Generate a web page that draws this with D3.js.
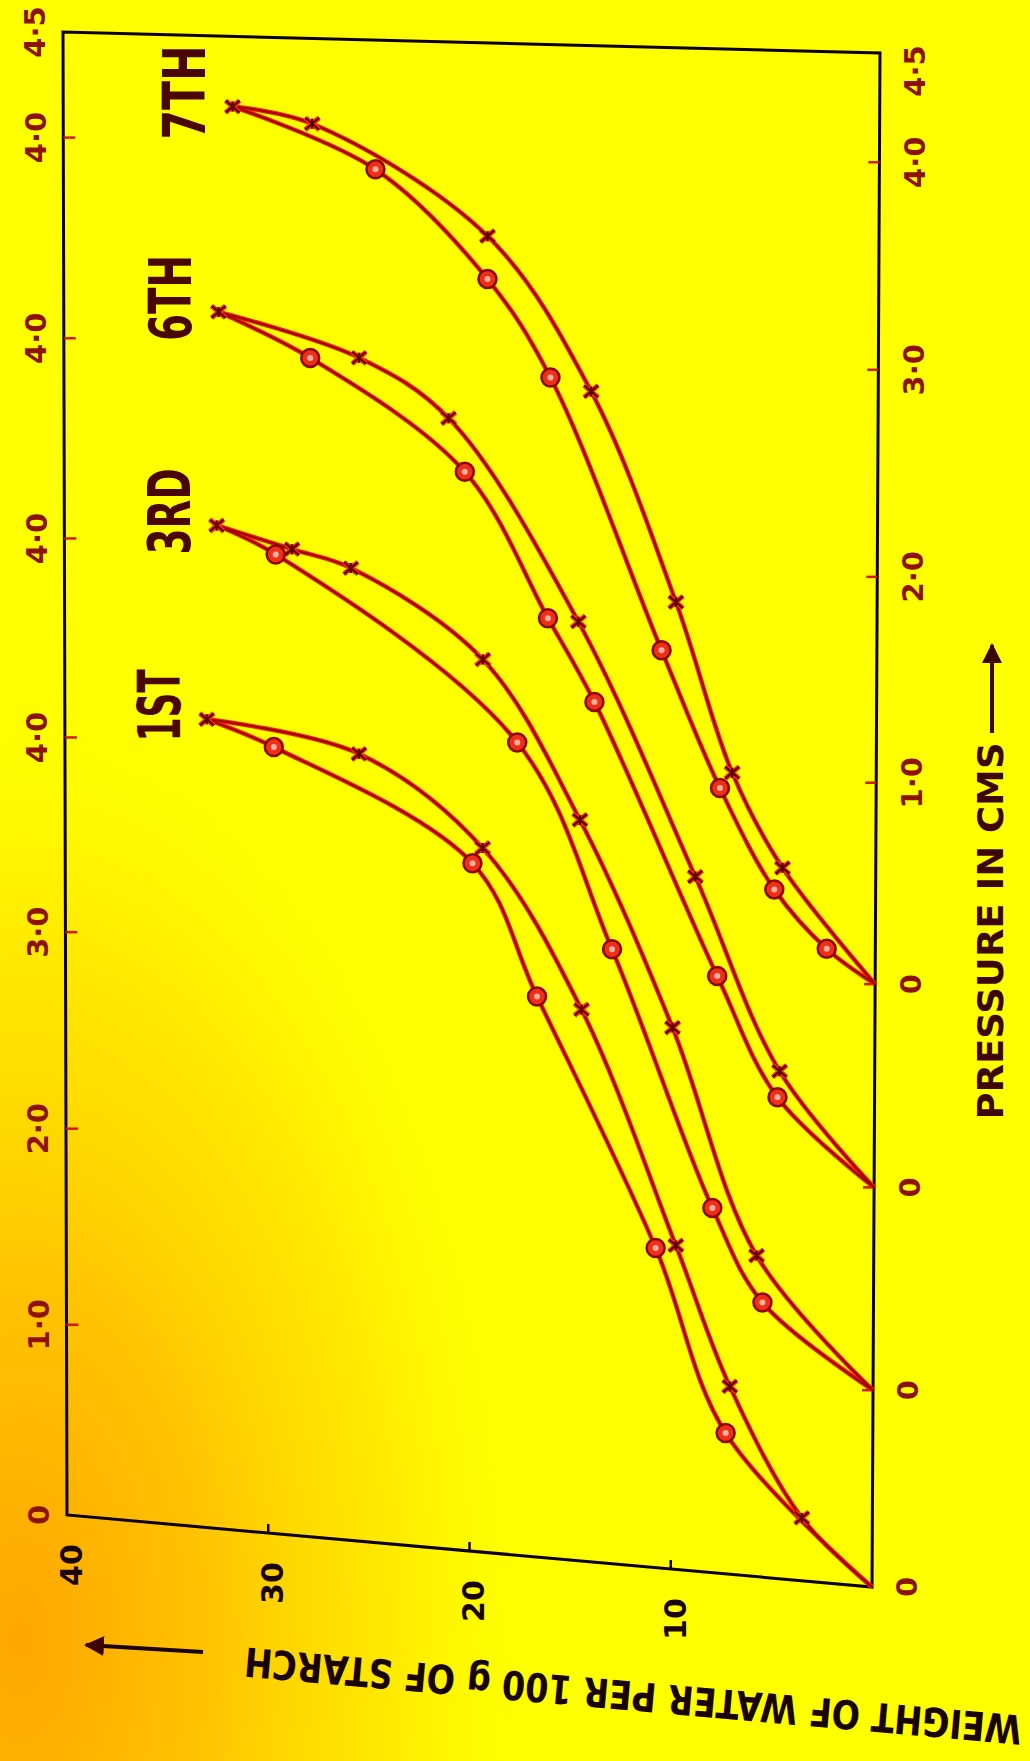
<!DOCTYPE html>
<html>
<head>
<meta charset="utf-8">
<title>Water taken up by starch</title>
<script src="https://cdn.jsdelivr.net/npm/d3@7/dist/d3.min.js"></script>
<style>
	body{margin:0;background:#ffff00;}
	svg{display:block;}
	.frame{fill:none;stroke:#0d0000;stroke-width:3;}
	.curve--glow{fill:none;stroke:#f02008;stroke-width:4.5;}
	.curve--core{fill:none;stroke:#9a0800;stroke-width:2;}
	.tick--red{stroke:#d41a00;stroke-width:2.5;}
	.tick--black{stroke:#140000;stroke-width:2.5;}
	.lbl{font-family:'DejaVu Sans',sans-serif;font-weight:bold;}
	.cycle{font-family:'DejaVu Sans Condensed','DejaVu Sans',sans-serif;font-weight:bold;}
</style>
</head>
<body>
<div id="chart"></div>
<script>
var W = 1030, H = 1761;

// each cycle is drawn one pressure unit further along the axis
var cycleNames = ['1ST','3RD','6TH','7TH'];
var cycleOffsets = [0,1,2,3];

// [pressure in cms, g water per 100 g starch]
// ads = points marked x, des = points marked o, tops = common end point of both
var ads1 = [[0.32,3.5],[0.96,7.1],[1.64,9.8],[2.78,14.5],[3.56,19.4],[4.00,25.5]];
var des1 = [[0.72,7.3],[1.62,10.8],[2.83,16.7],[3.48,19.9],[4.01,29.7]];
var ads3 = [[0.62,5.8],[1.72,10.0],[2.73,14.6],[3.50,19.4],[3.92,25.9],[4.00,28.8]];
var des3 = [[0.39,5.5],[0.84,8.0],[2.09,13.0],[3.10,17.7],[3.97,29.6]];
var ads6 = [[0.54,4.7],[1.48,8.9],[2.71,14.7],[3.68,21.1],[3.96,25.5]];
var des6 = [[0.41,4.8],[0.99,7.8],[2.32,13.9],[2.72,16.2],[3.42,20.3],[3.95,27.9]];
var ads7 = [[0.55,4.6],[1.01,7.1],[1.83,9.9],[2.84,14.1],[3.58,19.2],[4.10,27.8]];
var des7 = [[0.16,2.4],[0.44,5.0],[0.93,7.7],[1.59,10.6],[2.90,16.1],[3.37,19.2],[3.89,24.7]];
var tops = [[4.13,33.0],[4.10,32.5],[4.16,32.4],[4.17,31.7]];

// ticks along the shifted pressure axis
var tickPos = [0,1,2,3,4,5,6,7,7.5];
var lowerLabels = ['0','0','0','0','1·0','2·0','3·0','4·0','4·5'];
var upperLabels = ['0','1·0','2·0','3·0','4·0','4·0','4·0','4·0','4·5'];
var weightTicks = [10,20,30,40];

var adsSeries = [ads1,ads3,ads6,ads7];
var desSeries = [des1,des3,des6,des7];
var cycles = cycleNames.map(function(n,i){
	return {name:n, off:cycleOffsets[i], top:tops[i], ads:adsSeries[i], des:desSeries[i]};
});

// the printed figure is turned on its side and photographed a little skewed:
// pressure runs up the page, weight runs to the left. The pressure scale is
// piecewise because the photographed paper is not quite flat.
var lowX = d3.scaleLinear().domain([0,40]).range([872,67]),
	lowY = d3.scaleLinear().domain([0,40]).range([1587,1515]),
	highX = d3.scaleLinear().domain([0,40]).range([880,63]),
	highY = d3.scaleLinear().domain([0,40]).range([53,32]),
	uScale = d3.scaleLinear()
		.domain(tickPos)
		.range([0,0.1283,0.2605,0.3930,0.5243,0.6585,0.7935,0.9288,1]);

function proj(u,w){
	var t = uScale(u);
	return [lowX(w)+(highX(w)-lowX(w))*t, lowY(w)+(highY(w)-lowY(w))*t];
}

var svg = d3.select('#chart').append('svg')
	.attr('width',W)
	.attr('height',H);

function makeBackground(svg){
	var grad = svg.append('defs').append('radialGradient')
		.attr('id','stain')
		.attr('gradientUnits','userSpaceOnUse')
		.attr('cx',20).attr('cy',1640).attr('r',760)
		.attr('gradientTransform','translate(20,1640) scale(0.7,1.3) translate(-20,-1640)');
	grad.append('stop').attr('offset',0).attr('stop-color','#ffa600');
	grad.append('stop').attr('offset',0.35).attr('stop-color','#ffbc00').attr('stop-opacity',0.9);
	grad.append('stop').attr('offset',0.7).attr('stop-color','#ffd400').attr('stop-opacity',0.5);
	grad.append('stop').attr('offset',1).attr('stop-color','#ffff00').attr('stop-opacity',0);
	svg.append('rect').attr('width',W).attr('height',H).attr('fill','#ffff00');
	svg.append('rect').attr('width',W).attr('height',H).attr('fill','url(#stain)');
}

function makeFrame(svg){
	var c = [proj(0,0),proj(7.5,0),proj(7.5,40),proj(0,40)];
	svg.append('path')
		.attr('class','frame')
		.attr('d','M'+c.join('L')+'Z');
}

function makeTicks(svg){
	// red ticks inside both long edges, black ticks on the weight edge
	svg.selectAll('.tick-low')
		.data(tickPos.slice(1,8)).enter()
		.append('line')
			.attr('class','tick--red')
			.attr('x1',function(d){return proj(d,0)[0];})
			.attr('x2',function(d){return proj(d,0)[0]-11;})
			.attr('y1',function(d){return proj(d,0)[1];})
			.attr('y2',function(d){return proj(d,0)[1];});
	svg.selectAll('.tick-high')
		.data(tickPos.slice(1,8)).enter()
		.append('line')
			.attr('class','tick--red')
			.attr('x1',function(d){return proj(d,40)[0];})
			.attr('x2',function(d){return proj(d,40)[0]+12;})
			.attr('y1',function(d){return proj(d,40)[1];})
			.attr('y2',function(d){return proj(d,40)[1];});
	svg.selectAll('.tick-w')
		.data(weightTicks.slice(0,3)).enter()
		.append('line')
			.attr('class','tick--black')
			.attr('x1',function(d){return proj(0,d)[0];})
			.attr('x2',function(d){return proj(0,d)[0];})
			.attr('y1',function(d){return proj(0,d)[1];})
			.attr('y2',function(d){return proj(0,d)[1]-9;});
}

function makeTickLabels(svg){
	var low = tickPos.map(function(u,i){return {u:u,text:lowerLabels[i]};});
	var high = tickPos.map(function(u,i){return {u:u,text:upperLabels[i]};});
	svg.selectAll('.lab-low')
		.data(low).enter()
		.append('text')
			.attr('class','lbl')
			.attr('fill','#8e1200')
			.attr('font-size',29)
			.attr('text-anchor','middle')
			.attr('dy','0.36em')
			.attr('transform',function(d){
				var p = proj(d.u,0);
				return 'translate('+(p[0]+35)+','+(p[1]+(d.u==7.5?18:0))+') rotate(-90)';})
			.text(function(d){return d.text;});
	svg.selectAll('.lab-high')
		.data(high).enter()
		.append('text')
			.attr('class','lbl')
			.attr('fill','#8e1200')
			.attr('font-size',29)
			.attr('text-anchor','middle')
			.attr('dy','0.36em')
			.attr('transform',function(d){
				var p = proj(d.u,40);
				return 'translate('+(p[0]-28)+','+p[1]+') rotate(-90)';})
			.text(function(d){return d.text;});
	svg.selectAll('.lab-w')
		.data(weightTicks).enter()
		.append('text')
			.attr('class','lbl')
			.attr('fill','#1a0400')
			.attr('font-size',30)
			.attr('text-anchor','middle')
			.attr('dy','0.36em')
			.attr('transform',function(d){
				var p = proj(0,d);
				return 'translate('+(p[0]+4)+','+(p[1]+50)+') rotate(-90)';})
			.text(function(d){return d;});
}

function makeCurves(svg){
	var line = d3.line().curve(d3.curveCatmullRom.alpha(0.5));
	var paths = [];
	cycles.forEach(function(c){
		[c.ads,c.des].forEach(function(s){
			paths.push([[0,0]].concat(s,[c.top]).map(function(d){return proj(d[0]+c.off,d[1]);}));
		});
	});
	svg.selectAll('.curve--glow')
		.data(paths).enter()
		.append('path')
			.attr('class','curve--glow')
			.attr('d',line);
	svg.selectAll('.curve--core')
		.data(paths).enter()
		.append('path')
			.attr('class','curve--core')
			.attr('d',line);
}

function makeMarkers(svg){
	var rings = [], crosses = [];
	cycles.forEach(function(c){
		c.des.forEach(function(d){rings.push(proj(d[0]+c.off,d[1]));});
		c.ads.concat([c.top]).forEach(function(d){crosses.push(proj(d[0]+c.off,d[1]));});
	});
	var star = 'M-7,-6L7,6M-7,6L7,-6M0,-5L0,5';
	svg.selectAll('.mark-x-glow')
		.data(crosses).enter()
		.append('path')
			.attr('d',star)
			.attr('stroke','#ff3010')
			.attr('stroke-width',5)
			.attr('transform',function(d){return 'translate('+d[0]+','+d[1]+')';});
	svg.selectAll('.mark-x')
		.data(crosses).enter()
		.append('path')
			.attr('d',star)
			.attr('stroke','#5a0000')
			.attr('stroke-width',2.2)
			.attr('transform',function(d){return 'translate('+d[0]+','+d[1]+')';});
	svg.selectAll('.mark-o')
		.data(rings).enter()
		.append('circle')
			.attr('cx',function(d){return d[0];})
			.attr('cy',function(d){return d[1];})
			.attr('r',9)
			.attr('fill','#ee3018')
			.attr('stroke','#8a0800')
			.attr('stroke-width',2.5);
	svg.selectAll('.mark-o-eye')
		.data(rings).enter()
		.append('circle')
			.attr('cx',function(d){return d[0];})
			.attr('cy',function(d){return d[1];})
			.attr('r',3)
			.attr('fill','#ffb09a');
}

function makeCycleLabels(svg){
	// the lettering is tall and narrow
	var span = {'1ST':72,'3RD':86,'6TH':86,'7TH':94};
	svg.selectAll('.cycle')
		.data(cycles).enter()
		.append('text')
			.attr('class','cycle')
			.attr('fill','#4a0600')
			.attr('font-size',58)
			.attr('text-anchor','middle')
			.attr('dy','0.36em')
			.attr('textLength',function(d){return span[d.name];})
			.attr('lengthAdjust','spacingAndGlyphs')
			.attr('transform',function(d){
				var p = proj(d.top[0]+d.off,d.top[1]);
				return 'translate('+(p[0]-48)+','+(p[1]-14)+') rotate(-90)';})
			.text(function(d){return d.name;});
}

function makeTitles(svg){
	var defs = svg.select('defs');
	defs.append('marker')
		.attr('id','head')
		.attr('viewBox','0 0 10 10')
		.attr('refX',9).attr('refY',5)
		.attr('markerWidth',5).attr('markerHeight',5)
		.attr('orient','auto')
		.append('path')
			.attr('d','M0,0L10,5L0,10Z')
			.attr('fill','#3d0600');
	svg.append('text')
		.attr('class','lbl')
		.attr('fill','#3d0600')
		.attr('font-size',36)
		.attr('text-anchor','middle')
		.attr('dy','0.36em')
		.attr('textLength',377)
		.attr('lengthAdjust','spacingAndGlyphs')
		.attr('transform','translate(990,931) rotate(-90)')
		.text('PRESSURE IN CMS');
	svg.append('line')
		.attr('x1',992).attr('y1',733)
		.attr('x2',992).attr('y2',645)
		.attr('stroke','#3d0600')
		.attr('stroke-width',4)
		.attr('marker-end','url(#head)');
	svg.append('text')
		.attr('class','lbl')
		.attr('fill','#1a0400')
		.attr('font-size',40)
		.attr('text-anchor','middle')
		.attr('dy','0.36em')
		.attr('textLength',780)
		.attr('lengthAdjust','spacingAndGlyphs')
		.attr('transform','translate(633,1696) rotate(185)')
		.text('WEIGHT OF WATER PER 100 g OF STARCH');
	svg.append('line')
		.attr('x1',203).attr('y1',1652)
		.attr('x2',86).attr('y2',1645)
		.attr('stroke','#1a0400')
		.attr('stroke-width',4)
		.attr('marker-end','url(#head)');
}

makeBackground(svg);
makeFrame(svg);
makeTicks(svg);
makeTickLabels(svg);
makeCurves(svg);
makeMarkers(svg);
makeCycleLabels(svg);
makeTitles(svg);
</script>
</body>
</html>
